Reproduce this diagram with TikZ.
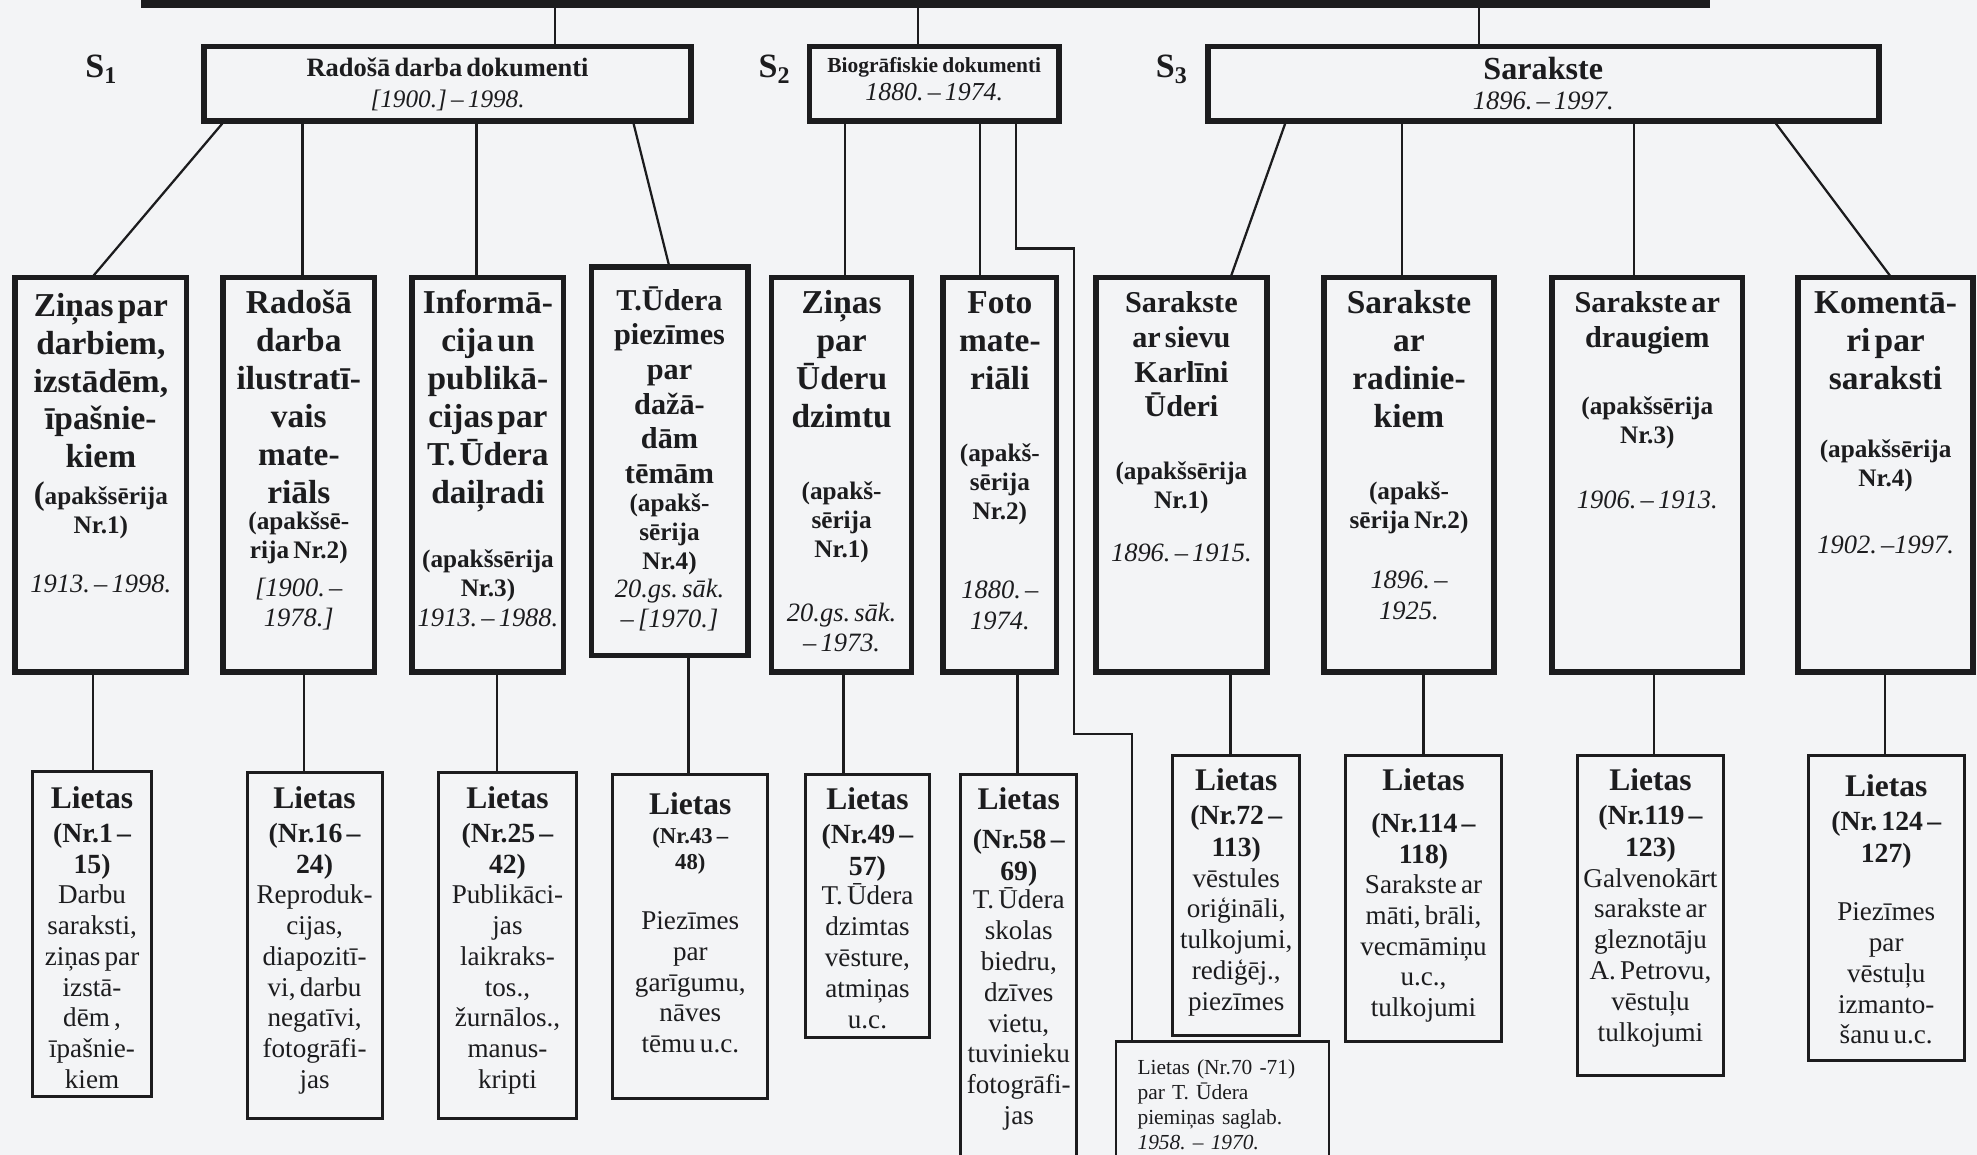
\documentclass[tikz,border=0pt]{standalone}
\usepackage{fontspec}
\setmainfont{Liberation Serif}
\usetikzlibrary{positioning,calc}

\definecolor{ink}{RGB}{28,28,30}
\definecolor{paper}{RGB}{243,244,246}

\hyphenpenalty=10000
\exhyphenpenalty=10000
\lineskiplimit=-100pt
\frenchspacing

% burtu izmeri (1pt = 1 pikselis)
\newcommand\hdr[1]{{\fontsize{26.5}{30}\selectfont\bfseries #1\par}}
\newcommand\hdrs[1]{{\fontsize{24}{27.5}\selectfont\bfseries #1\par}}
\newcommand\apak[1]{{\fontsize{20}{23}\selectfont\bfseries #1\par}}
\newcommand\dat[1]{{\fontsize{21}{24}\selectfont\itshape #1\par}}
\newcommand\liet[1]{{\fontsize{25}{27}\selectfont\bfseries #1\par}\vspace{2pt}}
\newcommand\nrs[1]{{\fontsize{22}{25}\selectfont\bfseries #1\par}}
\newcommand\tek[1]{{\fontsize{21.5}{24.5}\selectfont #1\par}}
\newcommand\Sn[1]{S\raisebox{-5pt}{\fontsize{19}{19}\selectfont #1}}

\tikzset{
    fonds/.style =  {rectangle,
                    draw=ink,
                    outer sep=0pt,
                    line width=6pt},
    serija/.style = {rectangle,
                    draw=ink,
                    outer sep=0pt,
                    line width=4.5pt,
                    minimum height=59pt},
    apakss/.style = {rectangle,
                    draw=ink,
                    outer sep=0pt,
                    line width=4.5pt},
    lieta/.style =  {rectangle,
                    draw=ink,
                    outer sep=0pt,
                    line width=2.4pt},
    piezime/.style = {rectangle,
                    draw=ink,
                    outer sep=0pt,
                    line width=1.8pt},
    teksts/.style = {anchor=base,
                    align=center,
                    inner sep=0pt,
                    text=ink},
    zime/.style =   {text=ink,
                    inner sep=0pt,
                    font=\fontsize{27}{27}\selectfont\bfseries},
    saite/.style =  {draw=ink,
                    line width=1.8pt}
}

\begin{document}
\begin{tikzpicture}[x=1pt, y=-1pt]
    \useasboundingbox[fill=paper] (0,0) rectangle (1568,916);
    \clip (0,0) rectangle (1568,916);

    % fonds un sērijas
    \node[fonds, minimum width=1238pt, minimum height=66pt] (fonds) at (734,-30) {};
    \node[serija, minimum width=386pt] (s1) at (355,66.5) {};
    \node[serija, minimum width=198pt] (s2) at (741,66.5) {};
    \node[serija, minimum width=532pt] (s3) at (1224,66.5) {};
    \node[zime] (sz1) at (80,55) {\Sn{1}};
    \node[zime] (sz2) at (614,55) {\Sn{2}};
    \node[zime] (sz3) at (929,55) {\Sn{3}};
    \node[teksts, text width=380pt] (s1t) at ([yshift=-24pt]s1.north)
        {{\fontsize{21}{24}\selectfont\bfseries Radošā darba dokumenti\par}
         {\fontsize{20}{24}\selectfont\itshape [1900.] – 1998.\par}};
    \node[teksts, text width=194pt] (s2t) at ([yshift=-20.5pt]s2.north)
        {{\fontsize{17}{22}\selectfont\bfseries Biogrāfiskie dokumenti\par}
         {\fontsize{20.5}{22}\selectfont\itshape 1880. – 1974.\par}};
    \node[teksts, text width=520pt] (s3t) at ([yshift=-26pt]s3.north)
        {{\fontsize{25.5}{27}\selectfont\bfseries Sarakste\par}
         {\fontsize{21}{24}\selectfont\itshape 1896. – 1997.\par}};

    % apakšsērijas
    \node[apakss, minimum width=136pt, minimum height=313pt] (z1) at (80,376.5) {};
    \node[apakss, minimum width=120pt, minimum height=313pt] (z2) at (237,376.5) {};
    \node[apakss, minimum width=120pt, minimum height=313pt] (z3) at (387,376.5) {};
    \node[apakss, minimum width=124pt, minimum height=308pt] (z4) at (531,366) {};
    \node[apakss, minimum width=111pt, minimum height=313pt] (z5) at (667.5,376.5) {};
    \node[apakss, minimum width=90pt, minimum height=313pt] (z6) at (793,376.5) {};
    \node[apakss, minimum width=136pt, minimum height=313pt] (z7) at (937,376.5) {};
    \node[apakss, minimum width=135pt, minimum height=313pt] (z8) at (1117.5,376.5) {};
    \node[apakss, minimum width=151pt, minimum height=313pt] (z9) at (1306.5,376.5) {};
    \node[apakss, minimum width=139pt, minimum height=313pt] (z10) at (1495.5,376.5) {};

    \node[teksts, text width=134pt] (z1t) at ([yshift=-31pt]z1.north)
        {\hdr{Ziņas par\\darbiem,\\izstādēm,\\īpašnie-\\kiem}\vspace{6pt}%
         \apak{{\fontsize{26}{23}\selectfont(}apakšsērija\\Nr.1)}\vspace{23pt}%
         \dat{1913. – 1998.}};
    \node[teksts, text width=120pt] (z2t) at ([yshift=-29pt]z2.north)
        {\hdr{Radošā\\darba\\ilustratī-\\vais\\mate-\\riāls}\vspace{-2pt}%
         \apak{(apakšsē-\\rija Nr.2)}\vspace{6pt}%
         \dat{[1900. –\\1978.]}};
    \node[teksts, text width=122pt] (z3t) at ([yshift=-29pt]z3.north)
        {\hdr{Informā-\\cija un\\publikā-\\cijas par\\T. Ūdera\\daiļradi}\vspace{28pt}%
         \apak{(apakšsērija\\Nr.3)}%
         \dat{1913. – 1988.}};
    \node[teksts, text width=122pt] (z4t) at ([yshift=-34pt]z4.north)
        {\hdrs{T.Ūdera\\piezīmes\\par\\dažā-\\dām\\tēmām}\vspace{-1pt}%
         \apak{(apakš-\\sērija\\Nr.4)}\vspace{-2pt}%
         \dat{20.gs. sāk.\\– [1970.]}};
    \node[teksts, text width=109pt] (z5t) at ([yshift=-29pt]z5.north)
        {\hdr{Ziņas\\par\\Ūderu\\dzimtu}\vspace{34pt}%
         \apak{(apakš-\\sērija\\Nr.1)}\vspace{27pt}%
         \dat{20.gs. sāk.\\– 1973.}};
    \node[teksts, text width=90pt] (z6t) at ([yshift=-29pt]z6.north)
        {\hdr{Foto\\mate-\\riāli}\vspace{34pt}%
         \apak{(apakš-\\sērija\\Nr.2)}\vspace{39pt}%
         \dat{1880. –\\1974.}};
    \node[teksts, text width=134pt] (z7t) at ([yshift=-28pt]z7.north)
        {\hdrs{Sarakste\\ar sievu\\Karlīni\\Ūderi}\vspace{27pt}%
         \apak{(apakšsērija\\Nr.1)}\vspace{18pt}%
         \dat{1896. – 1915.}};
    \node[teksts, text width=133pt] (z8t) at ([yshift=-29pt]z8.north)
        {\hdr{Sarakste\\ar\\radinie-\\kiem}\vspace{34pt}%
         \apak{(apakš-\\sērija Nr.2)}\vspace{24pt}%
         \dat{1896. –\\1925.}};
    \node[teksts, text width=149pt] (z9t) at ([yshift=-28pt]z9.north)
        {\hdrs{Sarakste ar\\draugiem}\vspace{30pt}%
         \apak{(apakšsērija\\Nr.3)}\vspace{28pt}%
         \dat{1906. – 1913.}};
    \node[teksts, text width=137pt] (z10t) at ([yshift=-29pt]z10.north)
        {\hdr{Komentā-\\ri par\\saraksti}\vspace{31pt}%
         \apak{(apakšsērija\\Nr.4)}\vspace{29pt}%
         \dat{1902. –1997.}};

    % lietas
    \node[lieta, minimum width=94pt, minimum height=258pt] (l1) at (73,741) {};
    \node[lieta, minimum width=107pt, minimum height=274pt] (l2) at (249.5,750) {};
    \node[lieta, minimum width=109pt, minimum height=274pt] (l3) at (402.5,750) {};
    \node[lieta, minimum width=123pt, minimum height=257pt] (l4) at (547.5,742.5) {};
    \node[lieta, minimum width=98pt, minimum height=209pt] (l5) at (688,718.5) {};
    \node[lieta, minimum width=92pt, minimum height=326pt] (l6) at (808,777) {};
    \node[lieta, minimum width=101pt, minimum height=222pt] (l7) at (980.5,710) {};
    \node[lieta, minimum width=124pt, minimum height=227pt] (l8) at (1129,712.5) {};
    \node[lieta, minimum width=116pt, minimum height=254pt] (l9) at (1309,726) {};
    \node[lieta, minimum width=124pt, minimum height=242pt] (l10) at (1496,720) {};
    \node[piezime, minimum width=169pt, minimum height=124pt] (lp) at (969.5,888) {};

    \node[teksts, text width=94pt] (l1t) at ([yshift=-29pt]l1.north)
        {\liet{Lietas}\nrs{(Nr.1 –\\15)}\vspace{-1pt}%
         \tek{Darbu\\saraksti,\\ziņas par\\izstā-\\dēm ,\\īpašnie-\\kiem}};
    \node[teksts, text width=107pt] (l2t) at ([yshift=-28pt]l2.north)
        {\liet{Lietas}\nrs{(Nr.16 –\\24)}\vspace{-1pt}%
         \tek{Reproduk-\\cijas,\\diapozitī-\\vi, darbu\\negatīvi,\\fotogrāfi-\\jas}};
    \node[teksts, text width=109pt] (l3t) at ([yshift=-28pt]l3.north)
        {\liet{Lietas}\nrs{(Nr.25 –\\42)}\vspace{-1pt}%
         \tek{Publikāci-\\jas\\laikraks-\\tos.,\\žurnālos.,\\manus-\\kripti}};
    \node[teksts, text width=123pt] (l4t) at ([yshift=-32pt]l4.north)
        {\liet{Lietas}{\fontsize{18}{21}\selectfont\bfseries (Nr.43 –\\48)\par}\vspace{22.5pt}%
         \tek{Piezīmes\\par\\garīgumu,\\nāves\\tēmu u.c.}};
    \node[teksts, text width=98pt] (l5t) at ([yshift=-28pt]l5.north)
        {\liet{Lietas}\nrs{(Nr.49 –\\57)}\vspace{-1pt}%
         \tek{T. Ūdera\\dzimtas\\vēsture,\\atmiņas\\u.c.}};
    \node[teksts, text width=92pt] (l6t) at ([yshift=-28pt]l6.north)
        {\liet{Lietas}\vspace{4pt}\nrs{(Nr.58 –\\69)}\vspace{-2pt}%
         \tek{T. Ūdera\\skolas\\biedru,\\dzīves\\vietu,\\tuvinieku\\fotogrāfi-\\jas}};
    \node[teksts, text width=101pt] (l7t) at ([yshift=-28pt]l7.north)
        {\liet{Lietas}\nrs{(Nr.72 –\\113)}%
         \tek{vēstules\\oriģināli,\\tulkojumi,\\rediģēj.,\\piezīmes}};
    \node[teksts, text width=124pt] (l8t) at ([yshift=-28pt]l8.north)
        {\liet{Lietas}\vspace{6pt}\nrs{(Nr.114 –\\118)}\vspace{-1pt}%
         \tek{Sarakste ar\\māti, brāli,\\vecmāmiņu\\u.c.,\\tulkojumi}};
    \node[teksts, text width=116pt] (l9t) at ([yshift=-28pt]l9.north)
        {\liet{Lietas}\nrs{(Nr.119 –\\123)}%
         \tek{Galvenokārt\\sarakste ar\\gleznotāju\\A. Petrovu,\\vēstuļu\\tulkojumi}};
    \node[teksts, text width=124pt] (l10t) at ([yshift=-33pt]l10.north)
        {\liet{Lietas}\nrs{(Nr. 124 –\\127)}\vspace{21.5pt}%
         \tek{Piezīmes\\par\\vēstuļu\\izmanto-\\šanu u.c.}};
    \node[teksts, anchor=base west, align=left, text width=150pt,
          font=\fontsize{17}{20}\selectfont] (lpt) at ([xshift=17pt, yshift=-26pt]lp.north west)
        {Lietas (Nr.70 -71)\\par T. Ūdera\\piemiņas saglab.\\{\itshape 1958. – 1970.}};

    % savienojumi
    \path[saite]
        ([xshift=-294pt]fonds.south) edge ([xshift=85pt]s1.north)
        ([xshift=-6pt]fonds.south) edge ([xshift=-13pt]s2.north)
        ([xshift=439pt]fonds.south) edge ([xshift=-51pt]s3.north)
        ([xshift=-177pt]s1.south) edge ([xshift=-7pt]z1.north)
        ([xshift=-115pt]s1.south) edge ([xshift=3pt]z2.north)
        ([xshift=23pt]s1.south) edge ([xshift=-9pt]z3.north)
        ([xshift=147pt]s1.south) edge (z4.north)
        ([xshift=-71pt]s2.south) edge ([xshift=2.5pt]z5.north)
        ([xshift=36pt]s2.south) edge ([xshift=-16pt]z6.north)
        ([xshift=-204pt]s3.south) edge ([xshift=39pt]z7.north)
        ([xshift=-112pt]s3.south) edge ([xshift=-5.5pt]z8.north)
        ([xshift=72pt]s3.south) edge ([xshift=-10.5pt]z9.north)
        ([xshift=183pt]s3.south) edge ([xshift=4.5pt]z10.north)
        ([xshift=-6pt]z1.south) edge ([xshift=1pt]l1.north)
        ([xshift=4pt]z2.south) edge ([xshift=-8.5pt]l2.north)
        ([xshift=7pt]z3.south) edge ([xshift=-8.5pt]l3.north)
        ([xshift=15pt]z4.south) edge ([xshift=-1.5pt]l4.north)
        ([xshift=1.5pt]z5.south) edge ([xshift=-19pt]l5.north)
        ([xshift=14pt]z6.south) edge ([xshift=-1pt]l6.north)
        ([xshift=39pt]z7.south) edge ([xshift=-4.5pt]l7.north)
        ([xshift=11.5pt]z8.south) edge (l8.north)
        ([xshift=5.5pt]z9.south) edge ([xshift=3pt]l9.north)
        ([xshift=-0.5pt]z10.south) edge ([xshift=-1pt]l10.north);

    % lūzumlīnija uz lietām Nr.70-71
    \coordinate (b1) at (852,197);
    \coordinate (b2) at (898,582);
    \draw[saite] ([xshift=65pt]s2.south) |- (b1) |- (b2) -- (b2 |- lp.north);
\end{tikzpicture}
\end{document}
